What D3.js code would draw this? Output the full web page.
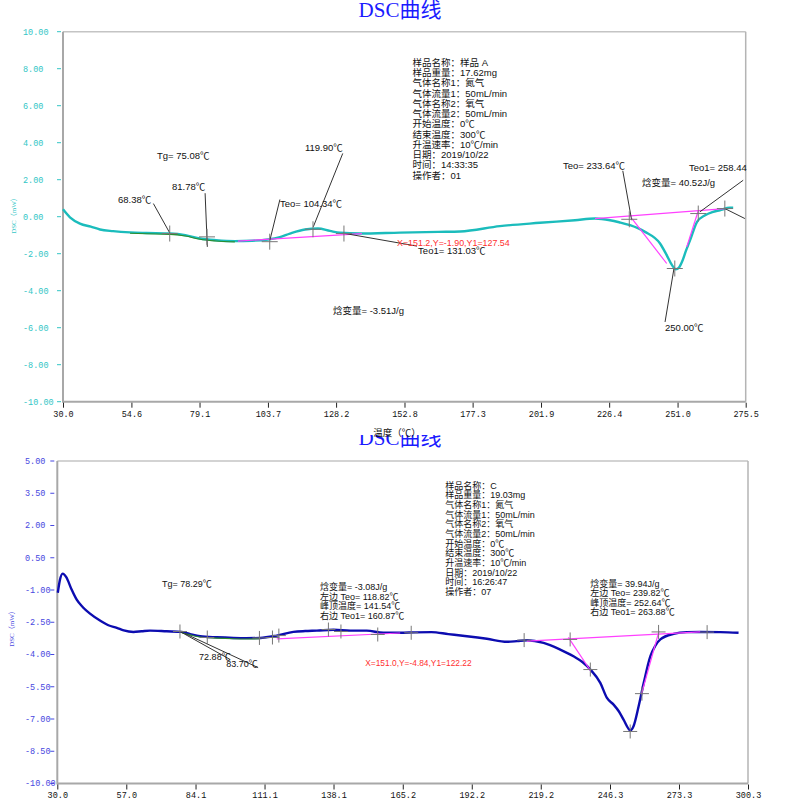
<!DOCTYPE html>
<html>
<head>
<meta charset="utf-8">
<script src="https://cdn.jsdelivr.net/npm/d3@7"></script>
<style>
  body { margin: 0; background: #fff; }
  svg { display: block; }
</style>
</head>
<body>
<script>
// ---------- sample A (top chart) ----------
var tempA = [30.0, 32.5, 36.1, 40, 43.3, 48, 54.1, 60, 68.5, 74, 79.3, 85, 91.8, 98, 103.7, 108, 111.6, 117, 121.7, 126, 129.6, 136.8, 151.2, 165, 172.8, 187.1, 201.5, 214.1, 221.3, 226.7, 230, 233.9, 239.3, 244.7, 247, 249, 250.4, 251.5, 252.6, 254, 255.5, 256.8, 258, 260.9, 263.5, 266.2, 269.8, 271.0];
var dscA = [0.40, -0.03, -0.37, -0.54, -0.69, -0.78, -0.85, -0.88, -0.91, -1.00, -1.18, -1.27, -1.32, -1.30, -1.23, -1.10, -0.91, -0.69, -0.64, -0.77, -0.87, -0.91, -0.86, -0.82, -0.80, -0.51, -0.33, -0.19, -0.10, -0.19, -0.30, -0.46, -0.82, -1.45, -2.05, -2.62, -2.84, -2.75, -2.44, -1.85, -1.27, -0.72, -0.28, 0.08, 0.25, 0.35, 0.48, 0.48];
var xTicksA = [30.0, 54.6, 79.1, 103.7, 128.2, 152.8, 177.3, 201.9, 226.4, 251.0, 275.5];
var yTicksA = [10, 8, 6, 4, 2, 0, -2, -4, -6, -8, -10];
var crossA = [[68.38, -0.91], [81.78, -1.09], [104.34, -1.35], [119.90, -0.68], [131.03, -0.91], [233.64, -0.14], [250.00, -2.80], [258.44, 0.17], [268.0, 0.44]];
var infoA = ["样品名称：样品 A", "样品重量：17.62mg", "气体名称1：氮气", "气体流量1：50mL/min", "气体名称2：氧气", "气体流量2：50mL/min", "开始温度：0℃", "结束温度：300℃", "升温速率：10℃/min", "日期：2019/10/22", "时间：14:33:35", "操作者：01"];
var labelsA = [
  [63.8, 3.11, "Tg= 75.08℃"],
  [49.8, 0.73, "68.38℃"],
  [69.2, 1.43, "81.78℃"],
  [117.0, 3.54, "119.90℃"],
  [108.0, 0.51, "Teo= 104.34℃"],
  [157.7, -2.03, "Teo1= 131.03℃"],
  [127.1, -5.27, "焓变量= -3.51J/g"],
  [209.8, 2.57, "Teo= 233.64℃"],
  [255.1, 2.46, "Teo1= 258.44"],
  [238.2, 1.65, "焓变量= 40.52J/g"],
  [246.5, -6.19, "250.00℃"]
];
var cursorA = [150.1, -1.57, "X=151.2,Y=-1.90,Y1=127.54"];
var leadersA = [
  [62.5, 0.71, 68.5, -0.91], [81.1, 1.27, 81.9, -1.63], [108.0, 0.93, 104.4, -1.27],
  [130.6, 3.42, 120.0, -0.55], [130.7, -0.89, 157.3, -1.59], [231.3, 2.48, 234.5, -0.19],
  [274.6, 1.97, 259.0, 0.26], [246.5, -5.69, 249.7, -2.80], [268.0, 0.44, 275.2, -0.10]
];
var baseA = [
  [92.9, -1.32, 137.5, -0.91], [221.3, -0.10, 268.0, 0.44],
  [234.6, -0.10, 247.1, -2.53], [254.3, -1.63, 258.5, 0.35]
];

// ---------- sample C (bottom chart) ----------
var tempC = [30.2, 31.0, 32.1, 33.5, 35.5, 37.6, 40, 42.8, 46.7, 50, 53.3, 56, 59.8, 63, 66.3, 72.8, 78.7, 82, 85.9, 92.4, 98.9, 104, 109.4, 115.9, 122.4, 127, 131.6, 138.1, 144.6, 151.1, 157.6, 164.2, 170, 176.4, 183, 190.3, 198.1, 206, 209.9, 213.8, 220.3, 226.8, 232, 235.5, 238.6, 242.5, 245.1, 247.7, 249.8, 251.6, 254.3, 255.5, 257.5, 259.5, 262.1, 264, 266.0, 271.2, 276.4, 281.6, 289.5, 296.6];
var dscC = [-1.13, -0.55, -0.24, -0.40, -0.95, -1.45, -1.80, -2.10, -2.42, -2.64, -2.76, -2.88, -2.95, -2.92, -2.89, -2.92, -2.95, -3.05, -3.15, -3.20, -3.23, -3.24, -3.23, -3.12, -2.95, -2.91, -2.89, -2.85, -2.89, -2.89, -2.99, -2.99, -2.97, -2.96, -3.05, -3.15, -3.27, -3.41, -3.38, -3.34, -3.46, -3.77, -4.08, -4.35, -4.70, -5.32, -6.02, -6.33, -6.65, -7.03, -7.53, -7.34, -6.41, -5.32, -4.08, -3.60, -3.30, -3.04, -2.96, -2.95, -2.96, -2.99];
var xTicksC = [30.0, 57.0, 84.1, 111.1, 138.1, 165.2, 192.2, 219.2, 246.3, 273.3, 300.3];
var yTicksC = [5.0, 3.5, 2.0, 0.5, -1.0, -2.5, -4.0, -5.5, -7.0, -8.5, -10.0];
var crossC = [[78.0, -2.93], [88.7, -3.21], [109.1, -3.23], [114.2, -3.21], [116.7, -3.12], [136.1, -2.84], [141.0, -2.93], [155.4, -3.07], [168.5, -2.99], [212.7, -3.33], [230.7, -3.30], [238.6, -4.70], [254.2, -7.58], [258.8, -5.82], [265.3, -2.95], [284.3, -2.96]];
var infoC = ["样品名称：C", "样品重量：19.03mg", "气体名称1：氮气", "气体流量1：50mL/min", "气体名称2：氧气", "气体流量2：50mL/min", "开始温度：0℃", "结束温度：300℃", "升温速率：10℃/min", "日期：2019/10/22", "时间：16:26:47", "操作者：07"];
var peak1C = ["焓变量= -3.08J/g", "左边 Teo= 118.82℃", "峰顶温度= 141.54℃", "右边 Teo1= 160.87℃"];
var peak2C = ["焓变量= 39.94J/g", "左边 Teo= 239.82℃", "峰顶温度= 252.64℃", "右边 Teo1= 263.88℃"];
var labelsC = [
  [71.0, -0.86, "Tg= 78.29℃"],
  [85.5, -4.24, "72.88℃"],
  [96.1, -4.57, "83.70℃"]
];
var cursorC = [150.5, -4.54, "X=151.0,Y=-4.84,Y1=122.22"];
var leadersC = [[78.0, -2.93, 97.6, -4.23], [80.0, -3.03, 108.6, -4.61]];
var baseC = [
  [115.9, -3.27, 164.2, -3.00], [213.8, -3.38, 281.6, -2.95],
  [230.0, -3.20, 238.8, -4.78], [258.6, -5.85, 265.5, -2.90]
];

var textFont = "'Liberation Sans', 'Noto Sans CJK SC', sans-serif";
var tickFont = "'Liberation Mono', 'DejaVu Sans Mono', monospace";

var svg = d3.select("body").append("svg")
  .attr("width", 800)
  .attr("height", 800);

svg.append("defs").append("clipPath").attr("id", "clipC")
  .append("rect").attr("x", 0).attr("y", 435).attr("width", 800).attr("height", 365);

function drawPanel(o) {
  var g = svg.append("g");
  if (o.clip) g.attr("clip-path", "url(#" + o.clip + ")");

  var x = d3.scaleLinear().domain(d3.extent(o.xTicks)).range([o.left, o.right]);
  var y = d3.scaleLinear().domain(d3.extent(o.yTicks)).range([o.bottom, o.top]);

  // title
  g.append("text")
    .attr("x", 400).attr("y", o.titleY)
    .attr("text-anchor", "middle")
    .style("font-family", "'Liberation Serif', 'Noto Sans CJK SC', serif")
    .style("font-size", "21px")
    .attr("fill", "#1a1aff")
    .text("DSC曲线");

  // frame
  g.append("line").attr("x1", o.left).attr("x2", o.right).attr("y1", o.top).attr("y2", o.top)
    .attr("stroke", "#c4c4c4").attr("stroke-width", 1.5);
  g.append("line").attr("x1", o.right).attr("x2", o.right).attr("y1", o.top).attr("y2", o.bottom)
    .attr("stroke", "#b4b4b4").attr("stroke-width", 1.5);
  g.append("line").attr("x1", o.left).attr("x2", o.left).attr("y1", o.top).attr("y2", o.bottom + 1)
    .attr("stroke", "#a8a8a8").attr("stroke-width", 2);
  g.append("line").attr("x1", o.left).attr("x2", o.right).attr("y1", o.bottom).attr("y2", o.bottom)
    .attr("stroke", "#a8a8a8").attr("stroke-width", 2);

  // x axis
  var xa = g.append("g")
    .attr("transform", "translate(0," + (o.bottom + 1) + ")")
    .call(d3.axisBottom(x).tickValues(o.xTicks).tickSize(5).tickPadding(o.xPad)
      .tickFormat(function(d) { return d.toFixed(1); }));
  xa.select(".domain").remove();
  xa.selectAll("line").attr("stroke", "#222");
  xa.selectAll("text").style("font-family", tickFont).style("font-size", "8.5px").attr("fill", "#111");

  // y ticks
  g.selectAll(".ytick").data(o.yTicks).enter().append("line")
    .attr("x1", o.left - o.tickGap - 4).attr("x2", o.left - o.tickGap)
    .attr("y1", function(d) { return y(d); }).attr("y2", function(d) { return y(d); })
    .attr("stroke", o.axisColor).attr("stroke-width", 1);
  g.selectAll(".ylab").data(o.yTicks).enter().append("text")
    .attr("x", o.yLabelX).attr("y", function(d) { return y(d); })
    .attr("dy", "0.35em")
    .style("font-family", tickFont).style("font-size", "8.5px")
    .attr("fill", o.axisColor)
    .text(function(d) { return d.toFixed(2); });

  // y title
  g.append("text")
    .attr("transform", "translate(" + o.yTitle[0] + "," + o.yTitle[1] + ") rotate(-90)")
    .attr("text-anchor", "middle").attr("dy", "0.35em")
    .style("font-family", "'Liberation Serif', 'Noto Sans CJK SC', serif")
    .style("font-size", "7px").attr("fill", o.axisColor)
    .text("DSC（mW）");

  // curve
  var pts = o.temp.map(function(t, i) { return [t, o.dsc[i]]; });
  var line = d3.line()
    .x(function(d) { return x(d[0]); })
    .y(function(d) { return y(d[1]); })
    .curve(d3.curveMonotoneX);

  g.append("path").datum(pts)
    .attr("d", line).attr("fill", "none")
    .attr("stroke", o.curveColor).attr("stroke-width", 2.4);

  // highlighted section
  g.append("path").datum(pts.filter(function(d) { return d[0] >= o.green[0] && d[0] <= o.green[1]; }))
    .attr("d", line).attr("fill", "none").attr("transform", "translate(0,0.8)")
    .attr("stroke", "#2c8c2c").attr("stroke-width", 1.1);

  // baselines and tangents
  g.selectAll(".base").data(o.base).enter().append("line")
    .attr("x1", function(d) { return x(d[0]); }).attr("y1", function(d) { return y(d[1]); })
    .attr("x2", function(d) { return x(d[2]); }).attr("y2", function(d) { return y(d[3]); })
    .attr("stroke", "#ff40ff").attr("stroke-width", 1.2);

  // leader lines
  g.selectAll(".lead").data(o.leaders).enter().append("line")
    .attr("x1", function(d) { return x(d[0]); }).attr("y1", function(d) { return y(d[1]); })
    .attr("x2", function(d) { return x(d[2]); }).attr("y2", function(d) { return y(d[3]); })
    .attr("stroke", "#333").attr("stroke-width", 1);

  // crosshairs
  var cg = g.selectAll(".cross").data(o.cross).enter().append("g")
    .attr("transform", function(d) { return "translate(" + x(d[0]) + "," + y(d[1]) + ")"; });
  cg.append("line").attr("x1", 0).attr("x2", 0).attr("y1", -o.arm).attr("y2", o.arm)
    .attr("stroke", "#777").attr("stroke-width", 1);
  cg.append("line").attr("x1", -o.arm).attr("x2", o.arm).attr("y1", 0).attr("y2", 0)
    .attr("stroke", "#777").attr("stroke-width", 1);

  // labels
  g.selectAll(".lab").data(o.labels).enter().append("text")
    .attr("x", function(d) { return x(d[0]); }).attr("y", function(d) { return y(d[1]); })
    .style("font-family", textFont).style("font-size", o.fontSize + "px")
    .attr("fill", "#111")
    .text(function(d) { return d[2]; });

  g.append("text")
    .attr("x", x(o.cursor[0])).attr("y", y(o.cursor[1]))
    .style("font-family", textFont).style("font-size", (o.fontSize - 0.6) + "px")
    .attr("fill", "#ff3030")
    .text(o.cursor[2]);

  // text blocks
  o.blocks.forEach(function(b) {
    g.selectAll(null).data(b.lines).enter().append("text")
      .attr("x", x(b.at[0]))
      .attr("y", function(d, i) { return y(b.at[1]) + i * b.step; })
      .style("font-family", textFont).style("font-size", o.fontSize + "px")
      .attr("fill", "#111")
      .text(function(d) { return d; });
  });
}

drawPanel({
  temp: tempA, dsc: dscA, xTicks: xTicksA, yTicks: yTicksA,
  left: 63, right: 745.7, top: 31.7, bottom: 401.7,
  titleY: 17, tickGap: 2, yLabelX: 23, yTitle: [14, 214], xPad: 3,
  axisColor: "#33c6c6", curveColor: "#1bbcbc", green: [54, 95],
  cross: crossA, labels: labelsA, cursor: cursorA, leaders: leadersA, base: baseA,
  arm: 8, fontSize: 9.5,
  blocks: [{ lines: infoA, at: [155.7, 8.16], step: 10.27 }]
});

drawPanel({
  temp: tempC, dsc: dscC, xTicks: xTicksC, yTicks: yTicksC,
  left: 57.3, right: 748, top: 461, bottom: 783.5,
  titleY: 445, tickGap: 3, yLabelX: 25, yTitle: [12, 627], xPad: 2,
  axisColor: "#4747e0", curveColor: "#0c0cb0", green: [78, 110],
  cross: crossC, labels: labelsC, cursor: cursorC, leaders: leadersC, base: baseC,
  arm: 7, fontSize: 9, clip: "clipC",
  blocks: [
    { lines: infoC, at: [181.8, 3.71], step: 9.65 },
    { lines: peak1C, at: [132.8, -1.0], step: 9.5 },
    { lines: peak2C, at: [238.6, -0.86], step: 9.5 }
  ]
});

// x title of the top chart, lying over the lower panel's title
svg.append("text")
  .attr("x", 397).attr("y", 436)
  .attr("text-anchor", "middle")
  .style("font-family", textFont).style("font-size", "9.5px")
  .attr("fill", "#111")
  .text("温度（℃）");
</script>
</body>
</html>
